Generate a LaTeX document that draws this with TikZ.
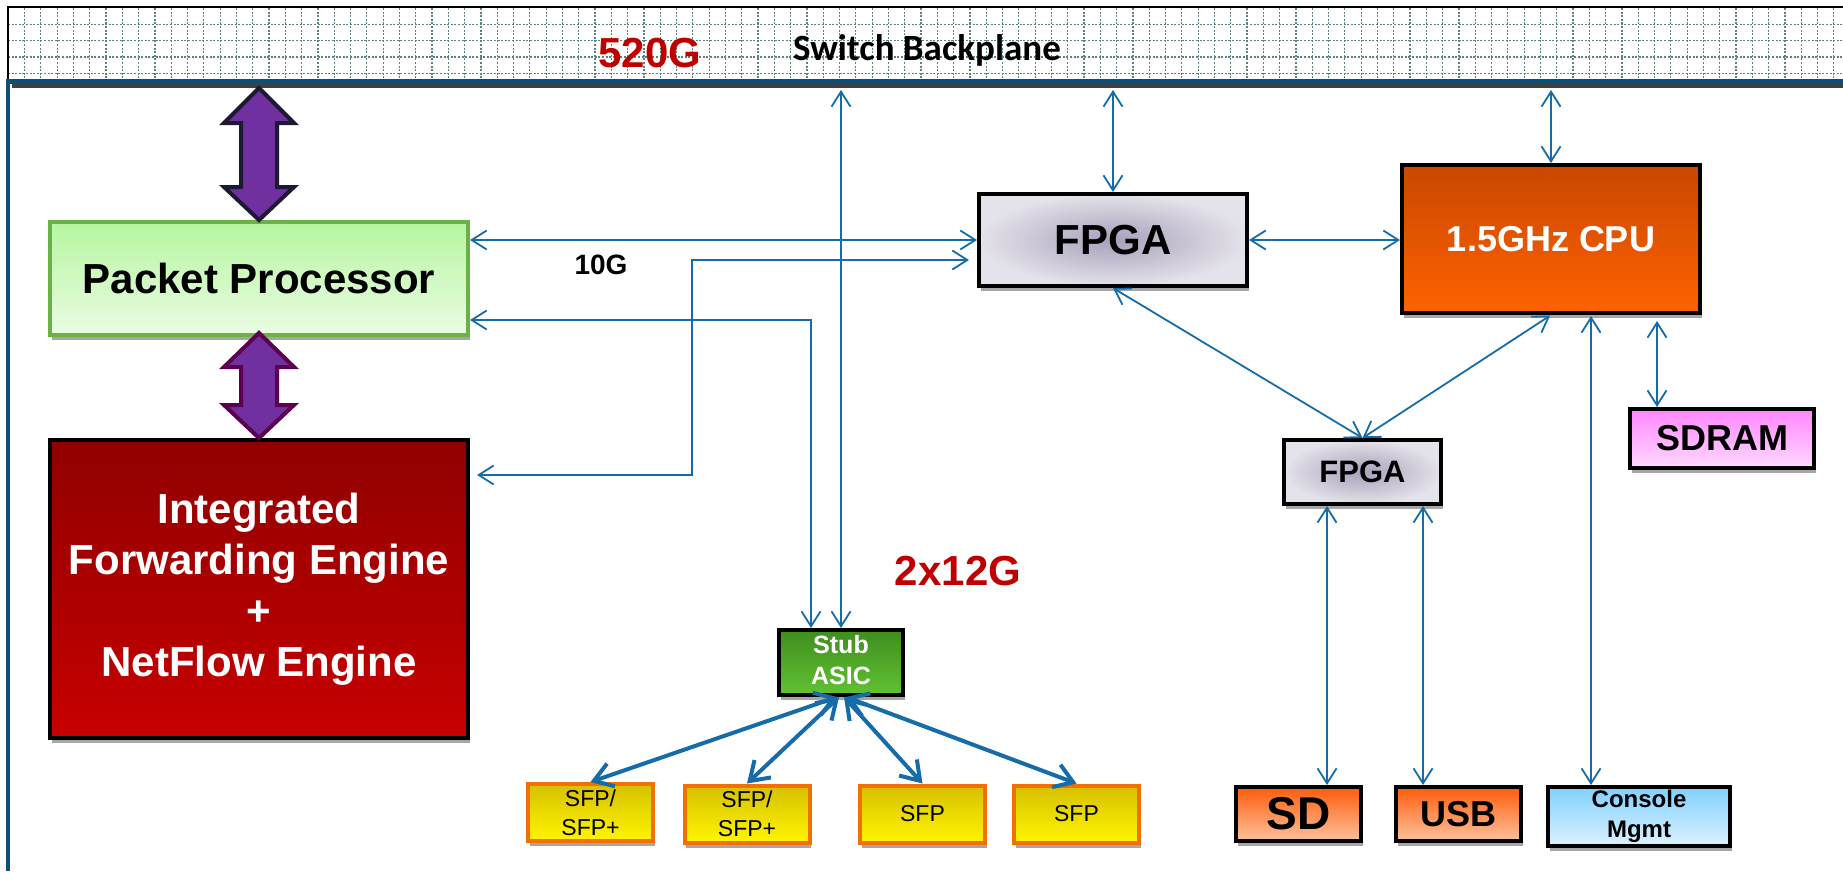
\documentclass[tikz,border=0pt]{standalone}
\usepackage{fontspec}
\setmainfont{Liberation Sans}
\newfontfamily\calibri{Carlito}
\usetikzlibrary{arrows.meta,shadows,calc}
\definecolor{linkblue}{RGB}{22,108,168}
\definecolor{boardblue}{RGB}{12,80,120}
\definecolor{gridc}{RGB}{90,130,130}
\definecolor{labelred}{RGB}{192,0,0}
\definecolor{arrowpurple}{RGB}{112,48,160}
\definecolor{arrowedgeA}{RGB}{28,26,51}
\definecolor{arrowedgeB}{RGB}{92,0,80}
\definecolor{ppgreen}{RGB}{106,178,70}
\definecolor{ppTop}{RGB}{182,246,160}
\definecolor{ppBot}{RGB}{234,252,228}
\definecolor{ifeTop}{RGB}{144,0,0}
\definecolor{ifeBot}{RGB}{200,0,0}
\definecolor{fpgaIn}{RGB}{168,160,186}
\definecolor{fpgaOut}{RGB}{228,226,234}
\definecolor{cpuTop}{RGB}{200,72,0}
\definecolor{cpuBot}{RGB}{255,98,0}
\definecolor{sdrTop}{RGB}{255,133,255}
\definecolor{sdrBot}{RGB}{255,218,255}
\definecolor{stubTop}{RGB}{62,142,30}
\definecolor{stubBot}{RGB}{98,194,50}
\definecolor{sfpOrange}{RGB}{240,112,0}
\definecolor{sfpTop}{RGB}{214,192,0}
\definecolor{sfpBot}{RGB}{255,245,0}
\definecolor{sdTop}{RGB}{255,92,12}
\definecolor{sdBot}{RGB}{252,194,156}
\definecolor{conTop}{RGB}{128,208,255}
\definecolor{conBot}{RGB}{220,242,255}
\begin{document}
\begin{tikzpicture}[x=1pt,y=-1pt,
  link/.style={draw=linkblue, line width=1.8pt, {Straight Barb[length=15pt,width=19pt]}-{Straight Barb[length=15pt,width=19pt]}},
  thicklink/.style={draw=linkblue, line width=4pt, {Straight Barb[length=18pt,width=24pt]}-{Straight Barb[length=18pt,width=24pt]}},
  box/.style={draw=black, line width=4pt, inner sep=0pt, align=center, drop shadow={shadow xshift=1.5pt, shadow yshift=-5pt, fill=black!35, opacity=1}},
  sfpbox/.style={box, draw=sfpOrange, top color=sfpTop, bottom color=sfpBot, minimum width=125pt, minimum height=57pt, font=\fontsize{23}{29}\selectfont},
  gridline/.style={draw=gridc, line width=1.2pt, dash pattern=on 2pt off 1.6pt},
  fatarrow/.style={fill=arrowpurple, line width=4pt, line join=miter},
  lbl/.style={inner sep=0pt}
]
\useasboundingbox (0,0) rectangle (1843,871);
% backplane
\fill[white] (8,7) rectangle (1843,79);
\begin{scope}
\clip (8,8) rectangle (1843,78);
\foreach \i in {0,...,112} \draw[gridline] (24.5+\i*16.3,8) -- ++(0,71);
\foreach \j in {24.3,40.6,56.9,73.2} \draw[gridline] (8,\j) -- (1843,\j);
\end{scope}
\draw[black, line width=2pt] (8,79) -- (8,7) -- (1843,7);
\fill[boardblue] (6,79) rectangle (1843,84);
\fill[black!75] (12,84) rectangle (1843,88);
\fill[boardblue] (6,79) rectangle (10,871);
% labels
\node[lbl, font=\bfseries\fontsize{42}{50}\selectfont, text=labelred] (l520) at (650,53) {520G};
\node[lbl, font=\calibri\bfseries\fontsize{37}{44}\selectfont] (lbp) at (927,50) {Switch Backplane};
\node[lbl, font=\bfseries\fontsize{28}{34}\selectfont] (l10) at (601,265) {10G};
\node[lbl, font=\bfseries\fontsize{42}{50}\selectfont, text=labelred] (l2x) at (958,571) {2x12G};
% nodes
\node[box, draw=ppgreen, top color=ppTop, bottom color=ppBot, minimum width=418pt, minimum height=113pt, font=\bfseries\fontsize{42}{50}\selectfont] (pp) at (259,278.5) {Packet Processor};
\node[box, top color=ifeTop, bottom color=ifeBot, minimum width=418pt, minimum height=298pt, text=white, font=\bfseries\fontsize{42}{51}\selectfont] (ife) at (259,589) {Integrated\\Forwarding Engine\\+\\NetFlow Engine};
\node[box, shading=radial, inner color=fpgaIn, outer color=fpgaOut, minimum width=268pt, minimum height=92pt, font=\bfseries\fontsize{42}{50}\selectfont] (fpga) at (1113,240) {FPGA};
\node[box, top color=cpuTop, bottom color=cpuBot, minimum width=298pt, minimum height=148pt, text=white, font=\bfseries\fontsize{36}{44}\selectfont] (cpu) at (1551,239) {1.5GHz CPU};
\node[box, top color=sdrTop, bottom color=sdrBot, minimum width=184pt, minimum height=59pt, font=\bfseries\fontsize{36}{44}\selectfont] (sdram) at (1722,438.5) {SDRAM};
\node[box, shading=radial, inner color=fpgaIn, outer color=fpgaOut, minimum width=157pt, minimum height=64pt, font=\bfseries\fontsize{31}{38}\selectfont] (fpga2) at (1362.5,472) {FPGA};
\node[box, top color=stubTop, bottom color=stubBot, minimum width=124pt, minimum height=65pt, text=white, font=\bfseries\fontsize{25}{31}\selectfont] (stub) at (841,662.5) {\raisebox{6pt}{\begin{tabular}{@{}c@{}}Stub\\ASIC\end{tabular}}};
\node[sfpbox] (sfp1) at (590.5,812.5) {SFP/\\SFP+};
\node[sfpbox] (sfp2) at (747,814) {SFP/\\SFP+};
\node[sfpbox] (sfp3) at (922.5,814) {SFP};
\node[sfpbox] (sfp4) at (1076.5,814) {SFP};
\node[box, top color=sdTop, bottom color=sdBot, minimum width=125pt, minimum height=54pt, font=\bfseries\fontsize{46}{52}\selectfont] (sd) at (1298.5,814) {SD};
\node[box, top color=sdTop, bottom color=sdBot, minimum width=125pt, minimum height=54pt, font=\bfseries\fontsize{36}{44}\selectfont] (usb) at (1458.5,814) {USB};
\node[box, top color=conTop, bottom color=conBot, minimum width=182pt, minimum height=59pt, font=\bfseries\fontsize{24}{30}\selectfont] (console) at (1639,816.5) {Console\\Mgmt};
% fat purple arrows
\draw[fatarrow, draw=arrowedgeA] (pp.north) -- ++(35,-33) -- ++(-17,0) -- ++(0,-64) -- ++(17,0) -- ++(-35,-35) -- ++(-35,35) -- ++(17,0) -- ++(0,64) -- ++(-17,0) -- cycle;
\draw[fatarrow, draw=arrowedgeB] ([yshift=4pt]pp.south) -- ++(35,34) -- ++(-17,0) -- ++(0,38) -- ++(17,0) -- ++(-35,33) -- ++(-35,-33) -- ++(17,0) -- ++(0,-38) -- ++(-17,0) -- cycle;
% thin links
\coordinate (bpS) at (841,90);
\coordinate (bpF) at (1113,90);
\coordinate (bpC) at (1551,90);
\draw[link] (bpS) -- (stub.north);
\draw[link] (bpF) -- (fpga.north);
\draw[link] (bpC) -- (cpu.north);
\draw[link] (pp.east |- fpga.west) -- (fpga.west);
\coordinate (j1) at (692,260);
\coordinate (j2) at (692,475);
\draw[link, shorten <=7pt, shorten >=8pt] (ife.east |- j2) -- (j2) -- (j1) -- (fpga.west |- j1);
\coordinate (j3) at (811,320);
\draw[link] (pp.east |- j3) -- (j3) -- (stub.north -| j3);
\draw[link] (fpga.east) -- (cpu.west |- fpga.east);
\draw[link] (fpga.south) -- (fpga2.north);
\draw[link, shorten <=1pt] (cpu.south) -- (fpga2.north);
\coordinate (xsdr) at (1657,0);
\coordinate (xcon) at (1591,0);
\coordinate (xsd) at (1327,0);
\coordinate (xusb) at (1423,0);
\draw[link, shorten <=6pt] (cpu.south -| xsdr) -- (sdram.north -| xsdr);
\draw[link, shorten <=1pt] (cpu.south -| xcon) -- (console.north -| xcon);
\draw[link] (fpga2.south -| xsd) -- (sd.north -| xsd);
\draw[link] (fpga2.south -| xusb) -- (usb.north -| xusb);
% thick links
\draw[thicklink] ([xshift=-4pt]stub.south) -- (sfp1.north);
\draw[thicklink] ([xshift=-2pt]stub.south) -- (sfp2.north);
\draw[thicklink] ([xshift=3pt]stub.south) -- (sfp3.north);
\draw[thicklink] ([xshift=5pt]stub.south) -- (sfp4.north);
\end{tikzpicture}
\end{document}
